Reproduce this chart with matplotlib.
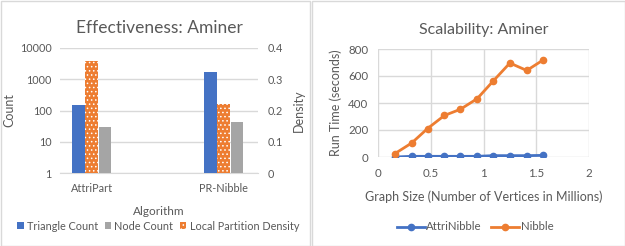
import matplotlib
matplotlib.use("Agg")
import matplotlib.pyplot as plt
from matplotlib.patches import Rectangle, Patch
from matplotlib.lines import Line2D

# left chart data
algorithms = ["AttriPart", "PR-Nibble"]
triangle_count = [155, 1660]
node_count = [29, 42]
partition_density = [0.36, 0.22]

# right chart data
graph_size = [0.16, 0.32, 0.47, 0.63, 0.78, 0.94, 1.09, 1.25, 1.41, 1.56]
attri_nibble = [0, 5, 5, 5, 5, 5, 10, 10, 10, 12]
nibble = [25, 104, 211, 308, 353, 432, 561, 696, 641, 716]

BLUE = "#4472C4"
ORANGE = "#ED7D31"
GRAY = "#A5A5A5"
TXT = "#595959"
GRID = "#D9D9D9"

plt.rcParams["font.family"] = ["Lato", "DejaVu Sans"]
plt.rcParams["hatch.linewidth"] = 0.6
W, H = 625, 246
fig = plt.figure(figsize=(W / 100, H / 100), dpi=100)

def box(x0, y0, x1, y1):
    return [x0 / W, 1 - y1 / H, (x1 - x0) / W, (y1 - y0) / H]

# panel borders
for x0, x1 in [(0.5, 309.5), (311.5, 624.5)]:
    fig.add_artist(Rectangle((x0 / W, 0.5 / H), (x1 - x0) / W, (H - 1.5) / H,
                             transform=fig.transFigure, fill=False, ec="#D9D9D9", lw=1))

# ---------- left: effectiveness ----------
ax = fig.add_axes(box(60, 48, 258, 173))
ax2 = ax.twinx()
xs = [0, 1]
bw = 0.095
ax.bar([x - 0.1 for x in xs], triangle_count, bw, color=BLUE, zorder=3)
ax.bar([x + 0.1 for x in xs], node_count, bw, color=GRAY, zorder=3)
ax2.bar(xs, partition_density, bw, color=ORANGE, edgecolor="white", hatch="....", lw=0, zorder=3)

ax.set_yscale("log")
ax.set_ylim(1, 10000)
ax.set_yticks([1, 10, 100, 1000, 10000])
ax.set_yticklabels(["1", "10", "100", "1000", "10000"])
ax.minorticks_off()
ax.set_xlim(-0.24, 1.26)
ax.set_xticks(xs)
ax.set_xticklabels(algorithms)
ax2.set_ylim(0, 0.4)
ax2.set_yticks([0, 0.1, 0.2, 0.3, 0.4])
ax2.set_yticklabels(["0", "0.1", "0.2", "0.3", "0.4"])
ax.grid(axis="y", color=GRID, lw=1, zorder=0)
for a in (ax, ax2):
    for s in a.spines.values():
        s.set_visible(False)
    a.tick_params(length=0, colors=TXT, labelsize=7.8)
ax.spines["bottom"].set_visible(True)
ax.spines["bottom"].set_color(GRID)
ax.tick_params(axis="y", pad=6)
ax2.tick_params(axis="y", pad=7)
ax.tick_params(axis="x", pad=7)
ax.set_ylabel("Count", color=TXT, fontsize=9, labelpad=3)
ax2.set_ylabel("Density", color=TXT, fontsize=9, labelpad=7)
ax.set_xlabel("Algorithm", color=TXT, fontsize=8.5, labelpad=9)
ax.set_title("Effectiveness: Aminer", color=TXT, fontsize=12.5, pad=11)

handles = [Patch(fc=BLUE), Patch(fc=GRAY), Patch(fc=ORANGE, ec="white", hatch="....", lw=0)]
fig.legend(handles, ["Triangle Count", "Node Count", "Local Partition Density"],
           loc="center", bbox_to_anchor=(158 / W, 1 - 226 / H), ncol=3, frameon=False,
           fontsize=7.8, labelcolor=TXT, handlelength=0.6, handleheight=0.6,
           handletextpad=0.3, columnspacing=0.6)

# ---------- right: scalability ----------
bx = fig.add_axes(box(378, 49, 589, 157))
bx.plot(graph_size, attri_nibble, color=BLUE, marker="o", ms=4.5, lw=2, zorder=3)
bx.plot(graph_size, nibble, color=ORANGE, marker="o", ms=4.5, lw=2, zorder=3)
bx.set_xlim(0, 2)
bx.set_ylim(0, 800)
bx.set_xticks([0, 0.5, 1, 1.5, 2])
bx.set_xticklabels(["0", "0.5", "1", "1.5", "2"])
bx.set_yticks([0, 200, 400, 600, 800])
bx.grid(color=GRID, lw=1, zorder=0)
for s in bx.spines.values():
    s.set_visible(False)
bx.tick_params(length=0, colors=TXT, labelsize=8.3)
bx.tick_params(axis="x", pad=8)
bx.tick_params(axis="y", pad=7)
bx.set_ylabel("Run Time (seconds)", color=TXT, fontsize=9, labelpad=4)
bx.set_xlabel("Graph Size (Number of Vertices in Millions)", color=TXT, fontsize=9, labelpad=8)
bx.set_title("Scalability: Aminer", color=TXT, fontsize=11.5, pad=11)

lh = [Line2D([], [], color=BLUE, marker="o", ms=4.5, lw=2),
      Line2D([], [], color=ORANGE, marker="o", ms=4.5, lw=2)]
fig.legend(lh, ["AttriNibble", "Nibble"], loc="center", bbox_to_anchor=(475 / W, 1 - 227 / H),
           ncol=2, frameon=False, fontsize=8.2, labelcolor=TXT, handlelength=2.5,
           handletextpad=0.1, columnspacing=0.8)

fig.savefig("out.png", dpi=100)
